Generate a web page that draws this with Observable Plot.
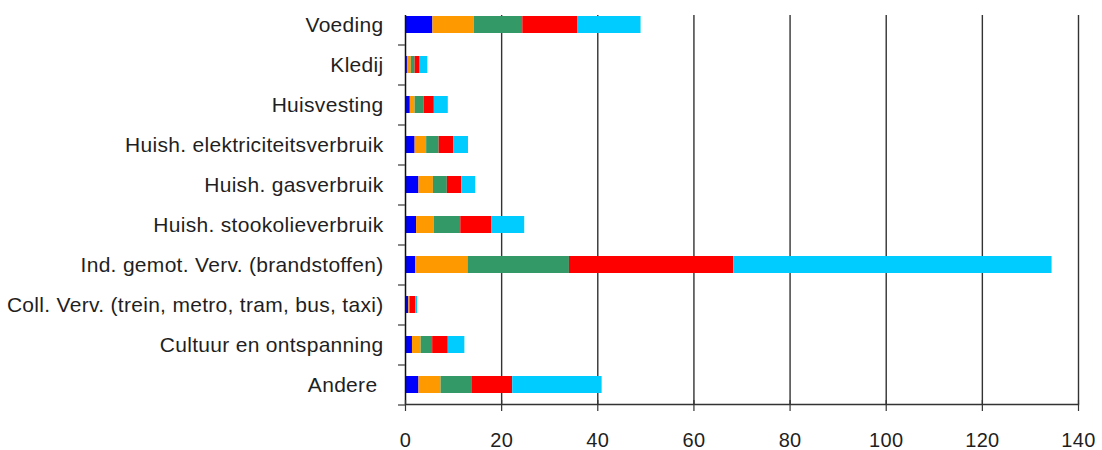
<!DOCTYPE html>
<html><head><meta charset="utf-8">
<script src="https://cdn.jsdelivr.net/npm/d3@7"></script>
<script src="https://cdn.jsdelivr.net/npm/@observablehq/plot@0.6"></script>
<style>body{margin:0;background:#fff;} #chart text{letter-spacing:0.3px;}</style>
</head><body><div id="chart"></div>
<script>
const categories = ["Voeding","Kledij","Huisvesting","Huish. elektriciteitsverbruik","Huish. gasverbruik","Huish. stookolieverbruik","Ind. gemot. Verv. (brandstoffen)","Coll. Verv. (trein, metro, tram, bus, taxi)","Cultuur en ontspanning","Andere\u00a0"];
const series = ["Reeks 1","Reeks 2","Reeks 3","Reeks 4","Reeks 5"];
const colors = ["#0000FF","#FF9900","#339966","#FF0000","#00CCFF"];
const reeks1 = [5.7, 0.4, 1.0, 2.0, 2.8, 2.3, 2.1, 0.7, 1.45, 2.8];
const reeks2 = [8.6, 0.8, 1.0, 2.4, 3.0, 3.7, 10.9, 0.15, 1.8, 4.6];
const reeks3 = [10.1, 0.8, 1.9, 2.6, 2.9, 5.5, 21.1, 0.15, 2.4, 6.4];
const reeks4 = [11.5, 1.05, 2.1, 3.0, 3.0, 6.4, 34.2, 1.1, 3.25, 8.5];
const reeks5 = [13.1, 1.6, 2.9, 3.1, 2.9, 6.9, 66.2, 0.4, 3.45, 18.6];
const xTicks = [0, 20, 40, 60, 80, 100, 120, 140];

const valueLists = [reeks1, reeks2, reeks3, reeks4, reeks5];
const rows = [];
categories.forEach((c, i) => {
  series.forEach((s, j) => rows.push({categorie: c, reeks: s, waarde: valueLists[j][i]}));
});

const font = "'Liberation Sans', Arial, sans-serif";
const chart = Plot.plot({
  width: 1102,
  height: 450,
  marginLeft: 405,
  marginRight: 24,
  marginTop: 15,
  marginBottom: 46,
  style: {fontFamily: font, background: "#fff", color: "#1f1f1f"},
  x: {domain: [0, 140], label: null},
  y: {domain: categories, range: [4, 404], paddingInner: 0.575, paddingOuter: 0.2875, label: null},
  color: {domain: series, range: colors},
  marks: [
    Plot.ruleX(xTicks.slice(1), {stroke: "#333", strokeWidth: 1.4}),
    Plot.barX(rows, {x: "waarde", y: "categorie", fill: "reeks"}),
    Plot.ruleX([0], {stroke: "#111", strokeWidth: 1.5}),
    Plot.frame({anchor: "bottom", stroke: "#333", strokeWidth: 1.4}),
    Plot.axisY({tickSize: 0, tickPadding: 22, fontSize: 21, label: null, fill: "#1f1f1f"}),
    Plot.axisY({tickSize: 7, dy: 20, tickFormat: () => "", label: null, stroke: "#555", strokeWidth: 1.4}),
    Plot.axisX(xTicks, {tickSize: 11, dy: -4, tickPadding: 21, fontSize: 20, label: null, stroke: "#333", strokeWidth: 1.2, fill: "#1f1f1f"})
  ]
});
document.getElementById("chart").appendChild(chart);
</script>
</body></html>
